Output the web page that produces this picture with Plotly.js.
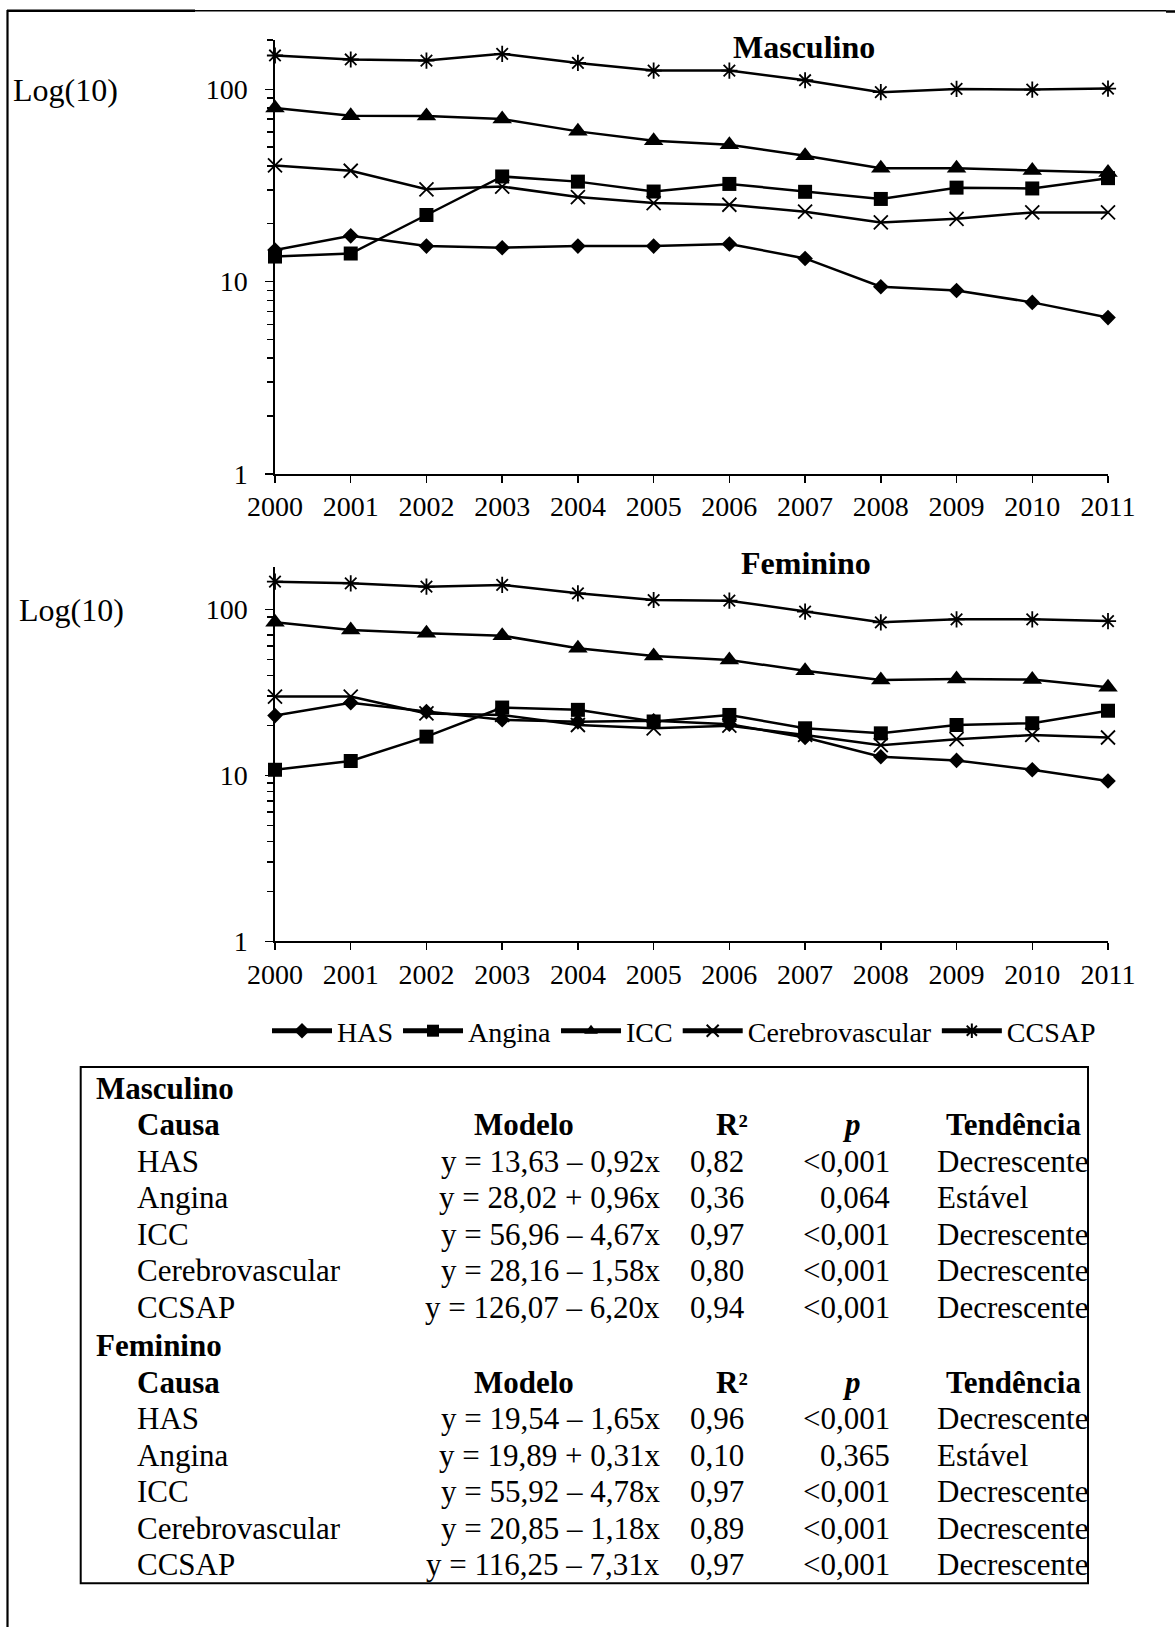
<!DOCTYPE html>
<html>
<head>
<meta charset="utf-8">
<script src="https://cdn.plot.ly/plotly-3.0.1.min.js"></script>
<style>html,body{margin:0;padding:0;background:#fff;}#chart{width:1175px;height:1627px;}</style>
</head>
<body>
<div id="chart"></div>
<script>
// ---------- data ----------
var years = [2000, 2001, 2002, 2003, 2004, 2005, 2006, 2007, 2008, 2009, 2010, 2011];
var seriesNames = ['HAS', 'Angina', 'ICC', 'Cerebrovascular', 'CCSAP'];

// Masculino
var masHAS    = [14.6, 17.3, 15.3, 15.0, 15.3, 15.3, 15.7, 13.2, 9.4, 9.0, 7.8, 6.5];
var masAngina = [13.5, 14.0, 22.2, 35.2, 33.1, 29.4, 32.2, 29.3, 26.9, 30.8, 30.5, 34.5];
var masICC    = [79.9, 72.9, 72.6, 70.0, 60.4, 54.0, 51.5, 45.1, 38.9, 38.9, 37.8, 36.9];
var masCereb  = [40.2, 37.7, 30.2, 31.2, 27.5, 25.6, 25.1, 23.1, 20.3, 21.2, 22.9, 22.9];
var masCCSAP  = [149.8, 142.8, 141.0, 152.8, 137.0, 125.1, 125.0, 111.4, 96.5, 100.4, 99.6, 100.8];

// Feminino
var femHAS    = [22.9, 27.4, 24.2, 21.6, 21.0, 21.3, 20.3, 16.9, 12.95, 12.3, 10.8, 9.25];
var femAngina = [10.8, 12.2, 17.1, 25.6, 24.8, 21.1, 23.1, 19.2, 17.9, 20.1, 20.6, 24.5];
var femICC    = [83.5, 75.1, 71.7, 69.4, 58.2, 52.4, 49.5, 42.7, 37.5, 38.0, 37.8, 33.9];
var femCereb  = [29.8, 29.8, 23.6, 23.1, 20.1, 19.2, 19.9, 17.5, 15.2, 16.5, 17.5, 16.9];
var femCCSAP  = [146.8, 143.4, 136.9, 140.2, 124.9, 113.8, 112.8, 96.8, 83.5, 87.1, 87.1, 85.0];

// y tick labels
var yTickVals = [1, 10, 100];
var yTickText = ['1', '10', '100'];
var yMinorVals = [2, 3, 4, 5, 6, 7, 8, 9, 20, 30, 40, 50, 60, 70, 80, 90, 180];

// Table
var causas    = ['HAS', 'Angina', 'ICC', 'Cerebrovascular', 'CCSAP'];
var masModelo = ['y = 13,63 – 0,92x', 'y = 28,02 + 0,96x', 'y = 56,96 – 4,67x', 'y = 28,16 – 1,58x', 'y = 126,07 – 6,20x'];
var masR2     = ['0,82', '0,36', '0,97', '0,80', '0,94'];
var masP      = ['<0,001', '0,064', '<0,001', '<0,001', '<0,001'];
var masTend   = ['Decrescente', 'Estável', 'Decrescente', 'Decrescente', 'Decrescente'];
var femModelo = ['y = 19,54 – 1,65x', 'y = 19,89 + 0,31x', 'y = 55,92 – 4,78x', 'y = 20,85 – 1,18x', 'y = 116,25 – 7,31x'];
var femR2     = ['0,96', '0,10', '0,97', '0,89', '0,97'];
var femP      = ['<0,001', '0,365', '<0,001', '<0,001', '<0,001'];
var femTend   = ['Decrescente', 'Estável', 'Decrescente', 'Decrescente', 'Decrescente'];
var tableHeaders = ['Causa', 'Modelo', 'R²', '<i>p</i>', 'Tendência'];

// ---------- helpers ----------
var W = 1175, H = 1627;
function px(x) { return x / W; }
function py(y) { return 1 - y / H; }
var FONT = 'Liberation Serif, Times New Roman, serif';

var styles = {
  'HAS':             {symbol: 'diamond', size: 12, open: false},
  'Angina':          {symbol: 'square', size: 14, open: false},
  'ICC':             {symbol: 'triangle-up', size: 17, open: false},
  'Cerebrovascular': {symbol: 'x-thin-open', size: 14, open: true},
  'CCSAP':           {symbol: 'asterisk-open', size: 13.5, open: true}
};

function mkTrace(name, yvals, xa, ya, showlegend) {
  var st = styles[name];
  var marker = {symbol: st.symbol, size: st.size, color: 'black'};
  marker.line = {color: 'black', width: st.open ? 1.8 : 0};
  return {
    type: 'scatter', mode: 'lines+markers', name: name,
    x: years, y: yvals, xaxis: xa, yaxis: ya,
    line: {color: 'black', width: 2.5},
    marker: marker, cliponaxis: false, showlegend: showlegend,
    hoverinfo: 'skip'
  };
}

var masData = [masHAS, masAngina, masICC, masCereb, masCCSAP];
var femData = [femHAS, femAngina, femICC, femCereb, femCCSAP];
var traces = [];
seriesNames.forEach(function (n, i) { traces.push(mkTrace(n, masData[i], 'x', 'y', true)); });
seriesNames.forEach(function (n, i) { traces.push(mkTrace(n, femData[i], 'x2', 'y2', false)); });

function xAxis(anchor) {
  return {
    domain: [px(275), px(1108)], anchor: anchor, range: [2000, 2011],
    tickmode: 'array', tickvals: years, ticktext: years.map(String),
    ticks: 'outside', ticklen: 7, tickwidth: 1.5, tickcolor: 'black',
    showline: true, linecolor: 'black', linewidth: 1.6,
    showgrid: false, zeroline: false, fixedrange: true,
    tickfont: {family: FONT, size: 28, color: 'black'},
    ticklabelstandoff: 0
  };
}
function yAxis(anchor, top, bottom, rmax) {
  return {
    type: 'log', domain: [py(bottom), py(top)], anchor: anchor, range: [0, rmax],
    tickmode: 'array', tickvals: yTickVals, ticktext: yTickText,
    ticks: 'outside', ticklen: 8, tickwidth: 1.5, tickcolor: 'black',
    minor: {tickmode: 'array', tickvals: yMinorVals, ticks: 'outside', ticklen: 6, tickwidth: 1.5, tickcolor: 'black', showgrid: false},
    showline: true, linecolor: 'black', linewidth: 1.6,
    showgrid: false, zeroline: false, fixedrange: true,
    tickfont: {family: FONT, size: 28, color: 'black'},
    ticklabelstandoff: 12
  };
}

var annotations = [];
function ann(text, x, y, xanchor, size, bold) {
  annotations.push({
    text: bold ? '<b>' + text + '</b>' : text,
    xref: 'paper', yref: 'paper', x: px(x), y: py(y),
    xanchor: xanchor, yanchor: 'middle', showarrow: false,
    font: {family: FONT, size: size, color: 'black'}
  });
}

// titles and axis labels
ann('Masculino', 803.5, 47, 'center', 32, true);
ann('Feminino', 806, 563, 'center', 32, true);
ann('Log(10)', 11, 90, 'left', 32, false);
ann('Log(10)', 17, 610, 'left', 32, false);

// table
var TS = 31;
function tableBlock(title, y0, modelo, r2, p, tend) {
  var step = 36.5;
  ann(title, 94, y0, 'left', TS, true);
  var yh = y0 + step;
  ann(tableHeaders[0], 135, yh, 'left', TS, true);
  ann(tableHeaders[1], 524, yh, 'center', TS, true);
  ann(tableHeaders[2], 750, yh, 'right', TS, true);
  ann(tableHeaders[3], 851, yh, 'center', TS, true);
  ann(tableHeaders[4], 944, yh, 'left', TS, true);
  for (var i = 0; i < causas.length; i++) {
    var y = y0 + step * (i + 2);
    ann(causas[i], 135, y, 'left', TS, false);
    ann(modelo[i], 662, y, 'right', TS, false);
    ann(r2[i], 688, y, 'left', TS, false);
    ann(p[i], 892, y, 'right', TS, false);
    ann(tend[i], 935, y, 'left', TS, false);
  }
}
tableBlock('Masculino', 1088, masModelo, masR2, masP, masTend);
tableBlock('Feminino', 1345.5, femModelo, femR2, femP, femTend);

var shapes = [
  {type: 'line', xref: 'paper', yref: 'paper', x0: px(7.5), x1: px(7.5), y0: py(10), y1: py(1627), line: {color: 'black', width: 2.2}},
  {type: 'line', xref: 'paper', yref: 'paper', x0: px(7), x1: px(1166), y0: py(10.7), y1: py(10.7), line: {color: 'black', width: 1.5}},
  {type: 'line', xref: 'paper', yref: 'paper', x0: px(7), x1: px(195), y0: py(10.7), y1: py(10.7), line: {color: 'black', width: 2.5}},
  {type: 'line', xref: 'paper', yref: 'paper', x0: px(1166), x1: px(1175), y0: py(11.5), y1: py(11.5), line: {color: 'black', width: 2.5}},
  {type: 'rect', xref: 'paper', yref: 'paper', x0: px(80.7), x1: px(1088), y0: py(1067), y1: py(1583.3), line: {color: 'black', width: 2}}
];

var layout = {
  width: W, height: H, margin: {l: 0, r: 0, t: 0, b: 0},
  paper_bgcolor: 'white', plot_bgcolor: 'white',
  font: {family: FONT, color: 'black'},
  xaxis: xAxis('y'), yaxis: yAxis('x', 40, 474, 2.256),
  xaxis2: xAxis('y2'), yaxis2: yAxis('x2', 567, 941.3, 2.255),
  showlegend: true,
  legend: {
    orientation: 'h', x: px(684), xanchor: 'center', y: py(1031), yanchor: 'middle',
    font: {family: FONT, size: 28, color: 'black'}, bgcolor: 'rgba(0,0,0,0)',
    itemwidth: 60, itemsizing: 'constant', traceorder: 'normal', itemclick: false, itemdoubleclick: false
  },
  annotations: annotations, shapes: shapes, hovermode: false
};

Plotly.newPlot('chart', traces, layout, {staticPlot: true, displayModeBar: false});
</script>
</body>
</html>
